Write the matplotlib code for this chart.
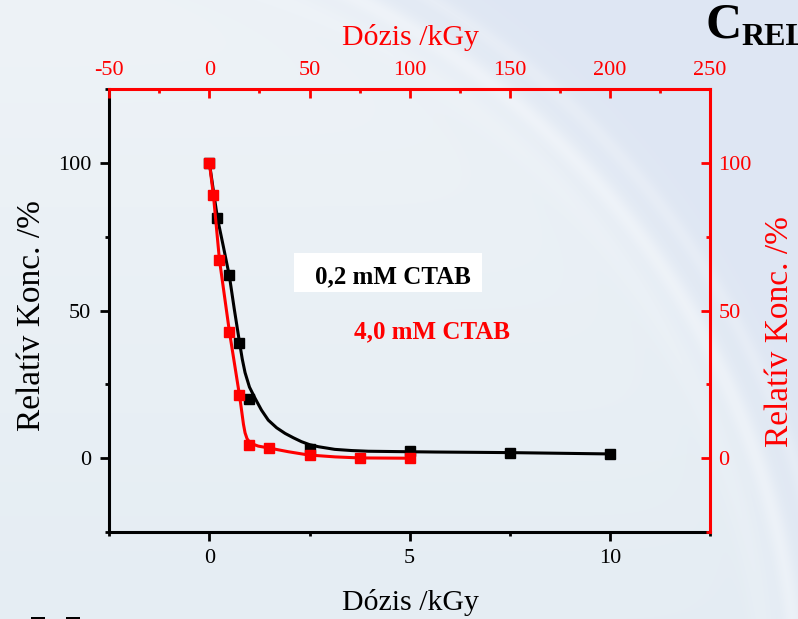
import numpy as np
import matplotlib
matplotlib.use("Agg")
import matplotlib.pyplot as plt
from matplotlib.patches import Rectangle
from matplotlib.ticker import MultipleLocator

# ---------------- data ----------------
# 0,2 mM CTAB (bottom axis, kGy 0-10)
black_x = [0, 0.2, 0.5, 0.75, 1.0, 2.5, 5.0, 7.5, 10.0]
black_y = [100, 81.5, 62.0, 39.2, 20.0, 3.0, 2.4, 1.9, 1.45]
# fitted curve for 0,2 mM CTAB
black_fit_x = [0, 0.1, 0.2, 0.35, 0.5, 0.62, 0.75, 0.82, 0.89, 1.0, 1.14, 1.3,
               1.47, 1.68, 1.89, 2.1, 2.3, 2.5, 2.72, 3.13, 3.55, 3.97, 4.97,
               5.63, 7.5, 10.0]
black_fit_y = [100, 90.6, 81.4, 71.6, 61.6, 50.6, 39.4, 33.6, 29.0, 24.1, 20.3,
               16.3, 12.9, 10.3, 8.4, 6.9, 5.6, 4.6, 3.9, 3.0, 2.6, 2.36, 2.2,
               2.1, 1.9, 1.45]

# 4,0 mM CTAB (top axis, kGy 0-100)
red_x = [0, 2, 5, 10, 15, 20, 30, 50, 75, 100]
red_y = [100, 89.1, 67.3, 42.8, 21.4, 4.4, 3.6, 1.1, 0.0, 0.0]
red_fit_x = [0, 2, 5, 10, 15, 16, 17, 17.8, 18.8, 20, 21.2, 24.4, 29.4, 39.4,
             49.4, 62.8, 75, 100]
red_fit_y = [100, 89.1, 67.3, 42.8, 21.4, 16.5, 11.5, 8.6, 6.6, 5.5, 4.9, 4.1,
             3.5, 2.2, 1.1, 0.45, 0.1, 0.0]

bottom_ticks = [0, 5, 10]
top_ticks = [-50, 0, 50, 100, 150, 200, 250]
y_ticks = [0, 50, 100]

W, H = 798, 619
plt.rcParams['font.family'] = ['Liberation Serif', 'DejaVu Serif']
plt.rcParams['axes.unicode_minus'] = False

fig = plt.figure(figsize=(W / 100, H / 100), dpi=100)

# ---------------- background ----------------
bg = fig.add_axes([0, 0, 1, 1], zorder=-10)
yy, xx = np.mgrid[0:H, 0:W].astype(float)
inside_top = np.array([238, 243, 247]) / 255.0
inside_bot = np.array([229, 237, 243]) / 255.0
outside = np.array([222, 230, 243]) / 255.0
fy = (yy / H)[..., None]
inside = inside_top * (1 - fy) + inside_bot * fy
d = np.sqrt((xx + 3) ** 2 + (yy - 714) ** 2) - 801
t = (1 / (1 + np.exp(-d / 25)))[..., None]
img = inside * (1 - t) + outside * t
band = (0.35 * np.exp(-(d / 10) ** 2) + 0.2 * np.exp(-((d - 35) / 8) ** 2)
        + 0.15 * np.exp(-((d + 30) / 14) ** 2))[..., None]
img = img * (1 - band) + band * 1.0
bg.imshow(np.clip(img, 0, 1), aspect='auto', extent=[0, 1, 0, 1])
bg.set_axis_off()

rect = [109.3 / W, 1 - 532 / H, (710 - 109.3) / W, (532 - 89.3) / H]

# ---------------- main (black) axes ----------------
ax = fig.add_axes(rect, facecolor='none')
ax.set_xlim(-2.5, 12.5)
ax.set_ylim(-25, 125)
ax.plot(black_fit_x, black_fit_y, color='black', lw=2.2, zorder=2)
ax.plot(black_x, black_y, ls='none', marker='s', ms=7.2, color='black', zorder=3)

ax.set_xticks(bottom_ticks)
ax.xaxis.set_minor_locator(MultipleLocator(2.5))
ax.set_yticks(y_ticks)
ax.yaxis.set_minor_locator(MultipleLocator(25))
ax.tick_params(axis='both', which='major', direction='out', length=6.5, width=2,
               labelsize=16, colors='black')
ax.tick_params(axis='both', which='minor', direction='out', length=3, width=2)
ax.tick_params(axis='x', pad=6)
ax.tick_params(axis='y', pad=6.5)
for s in ['top', 'right']:
    ax.spines[s].set_visible(False)
for s in ['left', 'bottom']:
    ax.spines[s].set_linewidth(2.2)
    ax.spines[s].set_color('black')

ax.set_xlabel('Dózis /kGy', fontsize=21.5)
ax.xaxis.label.set_va('center')
ax.xaxis.set_label_coords(0.5006, -0.160)
ax.set_ylabel('Relatív Konc. /%', fontsize=24)
ax.yaxis.label.set_va('center')
ax.yaxis.set_label_coords(-0.1287, 0.488)

# white box behind the black annotation
ax.add_patch(Rectangle((294 / W, 1 - 291.7 / H), (481.7 - 294) / W,
                       (291.7 - 253.3) / H, transform=fig.transFigure,
                       facecolor='white', edgecolor='none', zorder=4))
ax.text(393 / W, 1 - 276.7 / H, '0,2 mM CTAB', transform=fig.transFigure,
        fontsize=18, fontweight='bold', color='black', ha='center', va='center',
        zorder=5)

# ---------------- red axes (top/right) ----------------
axr = fig.add_axes(rect, facecolor='none')
axr.set_xlim(-50, 250)
axr.set_ylim(-25, 125)
axr.plot(red_fit_x, red_fit_y, color='#ff0000', lw=2.2, zorder=2)
axr.plot(red_x, red_y, ls='none', marker='s', ms=7.2, color='#ff0000', zorder=3)
axr.xaxis.tick_top()
axr.xaxis.set_label_position('top')
axr.yaxis.tick_right()
axr.yaxis.set_label_position('right')
axr.set_xticks(top_ticks)
axr.xaxis.set_minor_locator(MultipleLocator(25))
axr.set_yticks(y_ticks)
axr.yaxis.set_minor_locator(MultipleLocator(25))
axr.tick_params(axis='both', which='major', direction='in', length=6.5, width=2,
                labelsize=16, colors='#ff0000')
axr.tick_params(axis='both', which='minor', direction='in', length=3, width=2,
                colors='#ff0000')
axr.tick_params(axis='x', pad=7)
axr.tick_params(axis='y', pad=6)
for s in ['bottom', 'left']:
    axr.spines[s].set_visible(False)
for s in ['top', 'right']:
    axr.spines[s].set_linewidth(2.2)
    axr.spines[s].set_color('#ff0000')

axr.set_xlabel('Dózis /kGy', fontsize=21.5, color='#ff0000')
axr.xaxis.label.set_va('center')
axr.xaxis.set_label_coords(0.5006, 1.118)
axr.set_ylabel('Relatív Konc. /%', fontsize=24, color='#ff0000', rotation=90)
axr.yaxis.label.set_va('center')
axr.yaxis.set_label_coords(1.1165, 0.452)

axr.text(432.5 / W, 1 - 332.3 / H, '4,0 mM CTAB', transform=fig.transFigure,
         fontsize=18, fontweight='bold', color='#ff0000', ha='center',
         va='center', zorder=5)

# slide title fragment (cut by the right edge, as in the slide)
fig.text(705 / W, 1 - 38 / H, 'C', fontsize=36, fontweight='bold',
         color='black', ha='left', va='baseline')
fig.text(741 / W, 1 - 45 / H, 'REL', fontsize=23, fontweight='bold',
         color='black', ha='left', va='baseline')
# bullet fragments at bottom edge
for x0 in (31, 66):
    fig.patches.append(Rectangle((x0 / W, 0), 14 / W, 2.5 / H,
                                 transform=fig.transFigure, facecolor='black',
                                 edgecolor='none'))

fig.savefig('out.png', dpi=100)
